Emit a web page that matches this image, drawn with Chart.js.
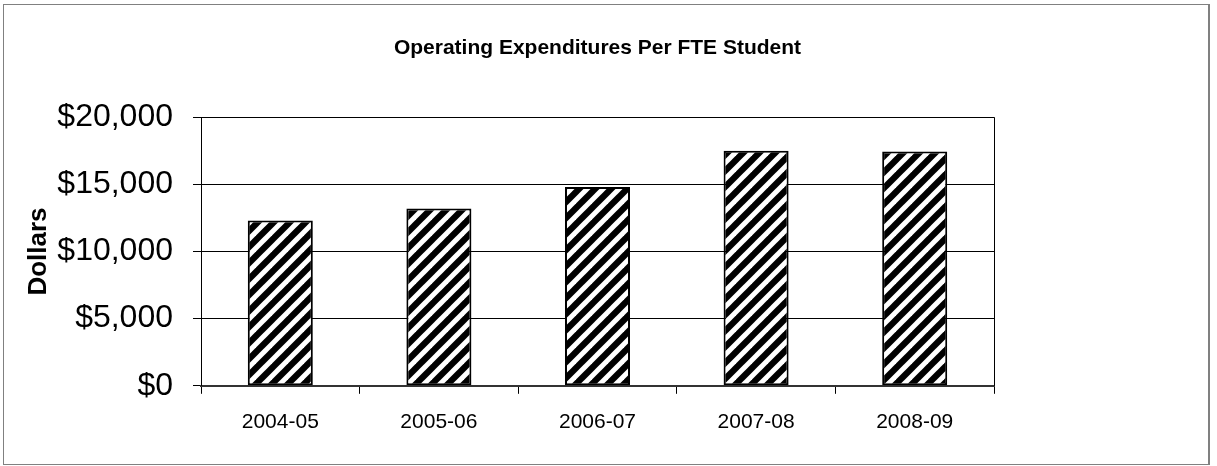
<!DOCTYPE html>
<html>
<head>
<meta charset="utf-8">
<script src="https://cdn.jsdelivr.net/npm/chart.js@4"></script>
<style>
html,body{margin:0;padding:0;background:#fff;}
#wrap{width:1217px;height:466px;position:relative;}
</style>
</head>
<body>
<div id="wrap"><canvas id="c" width="1217" height="466"></canvas></div>
<script>
const categories = ['2004-05', '2005-06', '2006-07', '2007-08', '2008-09'];
const expenditures = [12300, 13200, 14800, 17500, 17450];
const yTicks = [0, 5000, 10000, 15000, 20000];
const chartTitle = 'Operating Expenditures Per FTE Student';
const yTitle = 'Dollars';

function makeHatch() {
  const p = document.createElement('canvas');
  p.width = 16; p.height = 16;
  const g = p.getContext('2d');
  g.fillStyle = '#fff';
  g.fillRect(0, 0, 16, 16);
  g.strokeStyle = '#000';
  g.lineWidth = 6.3;
  for (let k = 0; k <= 2; k++) {
    g.beginPath();
    g.moveTo(16 * k + 6, -6);
    g.lineTo(16 * k - 22, 22);
    g.stroke();
  }
  return document.getElementById('c').getContext('2d').createPattern(p, 'repeat');
}

const frame = {
  id: 'frame',
  afterDraw(chart) {
    const ctx = chart.ctx;
    const a = chart.chartArea;
    ctx.save();
    ctx.strokeStyle = '#000';
    ctx.lineWidth = 1;
    ctx.beginPath();
    ctx.moveTo(Math.round(a.right) + 0.5, a.top);
    ctx.lineTo(Math.round(a.right) + 0.5, a.bottom);
    ctx.stroke();
    ctx.strokeStyle = '#808080';
    ctx.lineWidth = 1;
    ctx.strokeRect(3.5, 4.5, 1205, 460);
    ctx.lineWidth = 2;
    ctx.beginPath();
    ctx.moveTo(1209, 4);
    ctx.lineTo(1209, 465);
    ctx.stroke();
    ctx.restore();
  }
};

const FONT = '"Liberation Sans", Arial, sans-serif';

new Chart(document.getElementById('c'), {
  type: 'bar',
  data: {
    labels: categories,
    datasets: [{
      data: expenditures,
      backgroundColor: makeHatch(),
      borderColor: '#000',
      borderWidth: 2,
      borderSkipped: false,
      barPercentage: 0.41,
      categoryPercentage: 1.0
    }]
  },
  options: {
    responsive: false,
    animation: false,
    devicePixelRatio: 1,
    layout: { padding: { left: 23, right: 223, top: 6, bottom: 15 } },
    plugins: {
      legend: { display: false },
      tooltip: { enabled: false },
      title: {
        display: true,
        text: chartTitle,
        fullSize: false,
        color: '#000',
        font: { family: FONT, size: 21, weight: 'bold', lineHeight: 1.2 },
        padding: { top: 30, bottom: 56 }
      }
    },
    scales: {
      x: {
        grid: { display: true, drawOnChartArea: false, drawTicks: true, tickLength: 8, color: '#000', offset: true },
        border: { display: true, color: '#333', width: 2 },
        ticks: { color: '#000', padding: 16, font: { family: FONT, size: 21 } }
      },
      y: {
        min: 0,
        max: 20000,
        afterBuildTicks(scale) { scale.ticks = yTicks.map(v => ({ value: v })); },
        afterFit(scale) { scale.width = 178; },
        grid: { color: '#000', tickLength: 8, drawTicks: true },
        border: { display: true, color: '#000', width: 1 },
        ticks: {
          color: '#000',
          padding: 20,
          font: { family: FONT, size: 32 },
          callback: v => '$' + Number(v).toLocaleString('en-US')
        },
        title: {
          display: true,
          text: yTitle,
          color: '#000',
          font: { family: FONT, size: 26, weight: 'bold', lineHeight: 1.2 },
          padding: { top: 0, bottom: 0 }
        }
      }
    }
  },
  plugins: [frame]
});
</script>
</body>
</html>
